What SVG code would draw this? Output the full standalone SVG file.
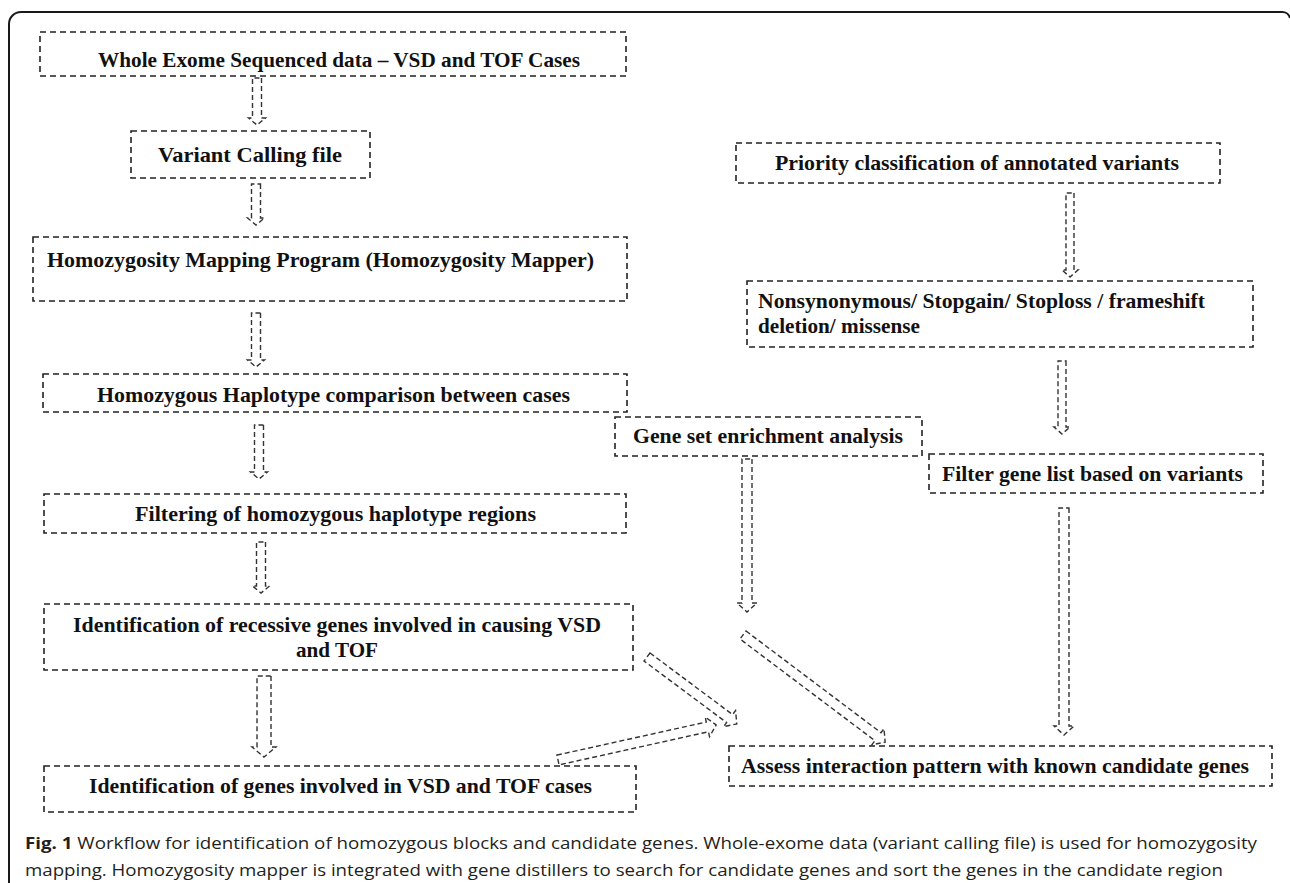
<svg xmlns="http://www.w3.org/2000/svg" width="1290" height="883" viewBox="0 0 1290 883">
<defs>
<style>
.box{fill:none;stroke:#222;stroke-width:1.6;stroke-dasharray:6 4}
.arr{fill:none;stroke:#333;stroke-width:1.4;stroke-dasharray:5 3}
.t{font-family:"Times New Roman","Liberation Serif",Tinos,serif;font-weight:700;font-size:22px;fill:#111}
.cap{font-family:"Open Sans","Noto Sans",sans-serif;font-size:16px;fill:#231f20}
</style>
</defs>
<rect width="1290" height="883" fill="#fff"/>
<path d="M9,883 V24 A12,12 0 0 1 21,12 H1282 A8,8 0 0 1 1290,18" fill="none" stroke="#1a1a1a" stroke-width="2"/>

<g id="connectors">
<path class="arr" transform="translate(257,78) rotate(90)" d="M0,-4.5 L40,-4.5 L40,-8.5 L47,0 L40,8.5 L40,4.5 L0,4.5 Z"/>
<path class="arr" transform="translate(256,184) rotate(90)" d="M0,-4.5 L34,-4.5 L34,-8.5 L41,0 L34,8.5 L34,4.5 L0,4.5 Z"/>
<path class="arr" transform="translate(256,313) rotate(90)" d="M0,-4.5 L47,-4.5 L47,-8.5 L54,0 L47,8.5 L47,4.5 L0,4.5 Z"/>
<path class="arr" transform="translate(259,425) rotate(90)" d="M0,-4.5 L47,-4.5 L47,-8.5 L54,0 L47,8.5 L47,4.5 L0,4.5 Z"/>
<path class="arr" transform="translate(261,542) rotate(90)" d="M0,-4.5 L44,-4.5 L44,-8.5 L51,0 L44,8.5 L44,4.5 L0,4.5 Z"/>
<path class="arr" transform="translate(264,676) rotate(90)" d="M0,-7 L71,-7 L71,-12 L81,0 L71,12 L71,7 L0,7 Z"/>
<path class="arr" transform="translate(1070,193) rotate(90)" d="M0,-4 L77,-4 L77,-8 L84,0 L77,8 L77,4 L0,4 Z"/>
<path class="arr" transform="translate(1062,361) rotate(90)" d="M0,-4 L66,-4 L66,-8 L73,0 L66,8 L66,4 L0,4 Z"/>
<path class="arr" transform="translate(747,459) rotate(90)" d="M0,-5 L144,-5 L144,-10 L153,0 L144,10 L144,5 L0,5 Z"/>
<path class="arr" transform="translate(1064,508) rotate(90)" d="M0,-5 L218,-5 L218,-10 L227,0 L218,10 L218,5 L0,5 Z"/>
<path class="arr" transform="translate(647,657) rotate(36.7)" d="M0,-5 L103,-5 L103,-10 L112,0 L103,10 L103,5 L0,5 Z"/>
<path class="arr" transform="translate(558,760) rotate(-12.5)" d="M0,-5 L153,-5 L153,-10 L162,0 L153,10 L153,5 L0,5 Z"/>
<path class="arr" transform="translate(743,635) rotate(37)" d="M0,-5 L169,-5 L169,-10 L178,0 L169,10 L169,5 L0,5 Z"/>
</g>

<g id="n1"><rect class="box" x="40" y="32" width="586" height="44"/><text class="t" x="98" y="67" textLength="482" lengthAdjust="spacingAndGlyphs">Whole Exome Sequenced data – VSD and TOF Cases</text></g>
<g id="n2"><rect class="box" x="131" y="131" width="239" height="47"/><text class="t" x="158" y="162" textLength="184" lengthAdjust="spacingAndGlyphs">Variant Calling file</text></g>
<g id="n3"><rect class="box" x="33" y="237" width="594" height="64"/><text class="t" x="47" y="267" textLength="547" lengthAdjust="spacingAndGlyphs">Homozygosity Mapping Program (Homozygosity Mapper)</text></g>
<g id="n4"><rect class="box" x="43" y="374" width="584" height="38"/><text class="t" x="97" y="402" textLength="473" lengthAdjust="spacingAndGlyphs">Homozygous Haplotype comparison between cases</text></g>
<g id="n5"><rect class="box" x="44" y="494" width="582" height="39"/><text class="t" x="135" y="521" textLength="401" lengthAdjust="spacingAndGlyphs">Filtering of homozygous haplotype regions</text></g>
<g id="n6"><rect class="box" x="44" y="604" width="589" height="66"/><text class="t" x="73" y="632" textLength="528" lengthAdjust="spacingAndGlyphs">Identification of recessive genes involved in causing VSD</text><text class="t" x="296" y="657" textLength="82" lengthAdjust="spacingAndGlyphs">and TOF</text></g>
<g id="n7"><rect class="box" x="44" y="766" width="592" height="46"/><text class="t" x="89" y="793" textLength="503" lengthAdjust="spacingAndGlyphs">Identification of genes involved in VSD and TOF cases</text></g>
<g id="n8"><rect class="box" x="736" y="143" width="484" height="40"/><text class="t" x="775" y="170" textLength="404" lengthAdjust="spacingAndGlyphs">Priority classification of annotated variants</text></g>
<g id="n9"><rect class="box" x="747" y="281" width="506" height="66"/><text class="t" x="758" y="308" textLength="447" lengthAdjust="spacingAndGlyphs">Nonsynonymous/ Stopgain/ Stoploss / frameshift</text><text class="t" x="758" y="333" textLength="162" lengthAdjust="spacingAndGlyphs">deletion/ missense</text></g>
<g id="n10"><rect class="box" x="615" y="417" width="307" height="39"/><text class="t" x="633" y="443" textLength="270" lengthAdjust="spacingAndGlyphs">Gene set enrichment analysis</text></g>
<g id="n11"><rect class="box" x="929" y="454" width="334" height="39"/><text class="t" x="942" y="481" textLength="301" lengthAdjust="spacingAndGlyphs">Filter gene list based on variants</text></g>
<g id="n12"><rect class="box" x="729" y="746" width="543" height="40"/><text class="t" x="741" y="773" textLength="508" lengthAdjust="spacingAndGlyphs">Assess interaction pattern with known candidate genes</text></g>

<g id="caption">
<text class="cap" x="25" y="849" textLength="1232" lengthAdjust="spacingAndGlyphs"><tspan font-weight="bold">Fig. 1</tspan> Workflow for identification of homozygous blocks and candidate genes. Whole-exome data (variant calling file) is used for homozygosity</text>
<text class="cap" x="25" y="876" textLength="1198" lengthAdjust="spacingAndGlyphs">mapping. Homozygosity mapper is integrated with gene distillers to search for candidate genes and sort the genes in the candidate region</text>
</g>
</svg>
